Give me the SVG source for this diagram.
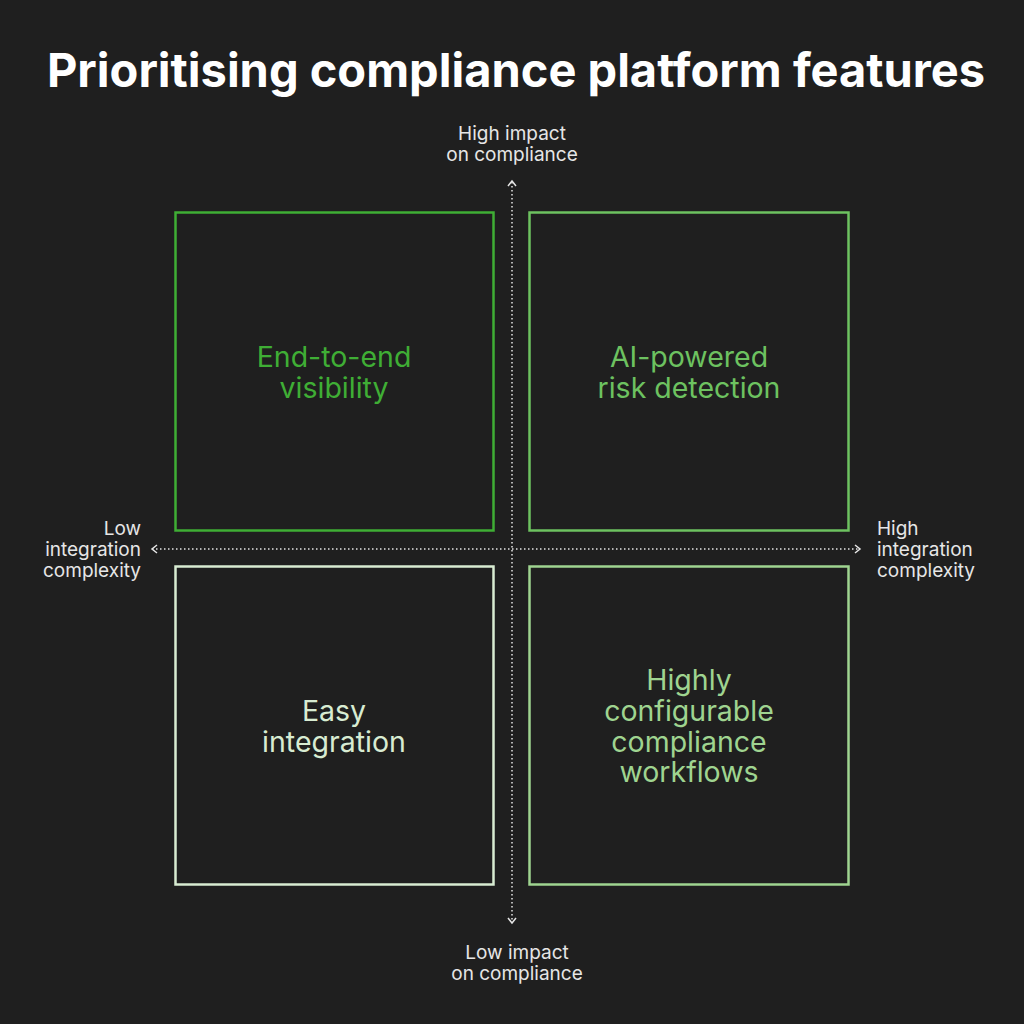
<svg xmlns="http://www.w3.org/2000/svg" width="1024" height="1024" viewBox="0 0 1024 1024">
<style>
.t{font-family:"Inter","Liberation Sans",sans-serif;}
.ax{fill:#e6e6e6;font-size:19px;}
.lb{font-size:28.5px;text-anchor:middle;}
.box{fill:none;stroke-width:2.5;}
.axl{stroke:#e6e6e6;stroke-width:1.5;stroke-dasharray:1.5 2.5;fill:none;}
.ah{stroke:#e6e6e6;stroke-width:1.5;fill:none;}
</style>
<rect width="1024" height="1024" fill="#1f1f1f"/>
<text class="t" x="516" y="87" text-anchor="middle" font-size="47" font-weight="700" fill="#ffffff">Prioritising compliance platform features</text>
<g id="connectors">
<line class="axl" x1="512" y1="182" x2="512" y2="922"/>
<polyline class="ah" points="508,186 512,181 516,186"/>
<polyline class="ah" points="508,918 512,923 516,918"/>
<line class="axl" x1="152" y1="549" x2="860" y2="549"/>
<polyline class="ah" points="157,545 152,549 157,553"/>
<polyline class="ah" points="855,545 860,549 855,553"/>
</g>
<g id="axis-top"><text class="t ax" text-anchor="middle"><tspan x="512" y="140">High impact</tspan><tspan x="512" y="161">on compliance</tspan></text></g>
<g id="axis-bottom"><text class="t ax" text-anchor="middle"><tspan x="517" y="959">Low impact</tspan><tspan x="517" y="980">on compliance</tspan></text></g>
<g id="axis-left"><text class="t ax" text-anchor="end"><tspan x="141" y="535">Low</tspan><tspan x="141" y="556">integration</tspan><tspan x="141" y="577">complexity</tspan></text></g>
<g id="axis-right"><text class="t ax"><tspan x="877" y="535">High</tspan><tspan x="877" y="556">integration</tspan><tspan x="877" y="577">complexity</tspan></text></g>
<g id="q1"><rect class="box" x="175.5" y="212.5" width="318" height="318" stroke="#3fae35"/>
<text class="t lb" fill="#3fae35"><tspan x="334" y="367">End-to-end</tspan><tspan x="334" y="398">visibility</tspan></text></g>
<g id="q2"><rect class="box" x="529.5" y="212.5" width="319" height="318" stroke="#6dc260"/>
<text class="t lb" fill="#6dc260"><tspan x="689" y="367">AI-powered</tspan><tspan x="689" y="398">risk detection</tspan></text></g>
<g id="q3"><rect class="box" x="175.5" y="566.5" width="318" height="318" stroke="#d8ecd2"/>
<text class="t lb" fill="#d8ecd2"><tspan x="334" y="721">Easy</tspan><tspan x="334" y="752">integration</tspan></text></g>
<g id="q4"><rect class="box" x="529.5" y="566.5" width="319" height="318" stroke="#9fd490"/>
<text class="t lb" fill="#9fd490"><tspan x="689" y="690">Highly</tspan><tspan x="689" y="721">configurable</tspan><tspan x="689" y="752">compliance</tspan><tspan x="689" y="782">workflows</tspan></text></g>
</svg>
